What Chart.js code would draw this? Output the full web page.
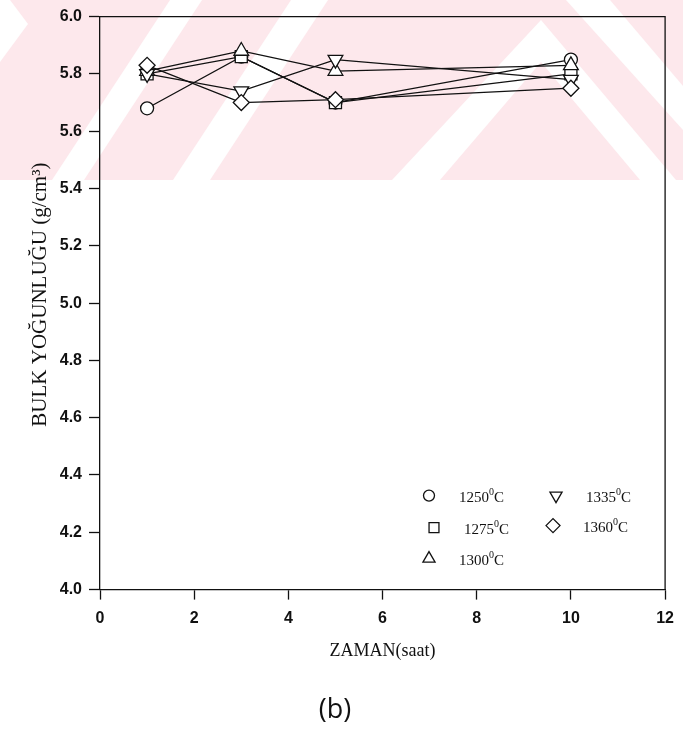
<!DOCTYPE html>
<html>
<head>
<meta charset="utf-8">
<script src="https://cdn.jsdelivr.net/npm/chart.js@4.4.1/dist/chart.umd.min.js"></script>
<style>
  html, body { margin: 0; padding: 0; background: #fff; }
</style>
</head>
<body>
<canvas id="density" width="683" height="742"></canvas>
<script>
// sintering time (hours) and bulk density for each temperature
const hours = [1, 3, 5, 10];
const temps = ['1250', '1275', '1300', '1335', '1360'];
const d1250 = [5.68, 5.86, 5.70, 5.85];
const d1275 = [5.80, 5.86, 5.70, 5.80];
const d1300 = [5.81, 5.88, 5.81, 5.83];
const d1335 = [5.80, 5.74, 5.85, 5.78];
const d1360 = [5.83, 5.70, 5.71, 5.75];
const xTicks = [0, 2, 4, 6, 8, 10, 12];
const yTicks = [4.0, 4.2, 4.4, 4.6, 4.8, 5.0, 5.2, 5.4, 5.6, 5.8, 6.0];
const yTitle = 'BULK YOĞUNLUĞU (g/cm³)';

const series = [d1250, d1275, d1300, d1335, d1360];
const markers = [
  { style: 'circle', rot: 0, r: 6.5 },
  { style: 'rect', rot: 0, r: 8.5 },
  { style: 'triangle', rot: 0, r: 8.5 },
  { style: 'triangle', rot: 180, r: 8.5 },
  { style: 'rectRot', rot: 0, r: 8 }
];

const datasets = series.map((vals, i) => ({
  label: temps[i] + '⁰C',
  data: hours.map((h, j) => ({ x: h, y: vals[j] })),
  order: series.length - i, // diamonds end up on top
  borderColor: '#111',
  borderWidth: 1.3,
  backgroundColor: '#fff',
  pointStyle: markers[i].style,
  pointRotation: markers[i].rot,
  pointRadius: markers[i].r,
  pointBorderWidth: 1.3,
  pointBorderColor: '#111',
  pointBackgroundColor: '#fff',
  tension: 0
}));

// faint pink stamp behind the top of the figure
const stamp = {
  id: 'stamp',
  beforeDraw(chart) {
    const ctx = chart.ctx;
    ctx.save();
    ctx.fillStyle = '#fde8ec';
    ctx.fillRect(0, 0, 683, 180);
    ctx.fillStyle = '#ffffff';
    const poly = pts => {
      ctx.beginPath();
      ctx.moveTo(pts[0][0], pts[0][1]);
      pts.slice(1).forEach(p => ctx.lineTo(p[0], p[1]));
      ctx.closePath();
      ctx.fill();
    };
    poly([[0, 0], [10, 0], [28, 24], [0, 62]]);
    poly([[52, 180], [84, 180], [202, 0], [170, 0]]);
    poly([[173, 180], [210, 180], [328, 0], [291, 0]]);
    poly([[392, 180], [440, 180], [541, 62], [640, 180], [676, 180], [541, 20]]);
    poly([[566, 0], [610, 0], [683, 86], [683, 130]]);
    ctx.restore();
  }
};

// closes the frame on the top and right, writes the vertical axis title
const frame = {
  id: 'frame',
  beforeDatasetsDraw(chart) {
    const a = chart.chartArea, ctx = chart.ctx;
    ctx.save();
    ctx.strokeStyle = '#111';
    ctx.lineWidth = 1.3;
    ctx.beginPath();
    ctx.moveTo(a.left, a.top);
    ctx.lineTo(a.right, a.top);
    ctx.lineTo(a.right, a.bottom);
    ctx.stroke();

    ctx.translate(40, a.top + 278);
    ctx.rotate(-Math.PI / 2);
    ctx.fillStyle = '#111';
    ctx.textAlign = 'center';
    ctx.textBaseline = 'middle';
    ctx.font = '21px "Liberation Serif", "Times New Roman", serif';
    ctx.fillText(yTitle, 0, 0);
    ctx.restore();
  }
};

// two-column key in the lower right of the plot
const key = {
  id: 'key',
  afterDraw(chart) {
    const ctx = chart.ctx, a = chart.chartArea;
    const spots = [
      [a.left + 329, a.top + 479],
      [a.left + 334, a.top + 511],
      [a.left + 329, a.top + 542],
      [a.left + 456, a.top + 479],
      [a.left + 453, a.top + 509]
    ];
    ctx.save();
    chart.data.datasets.forEach((ds, i) => {
      const [x, y] = spots[i];
      ctx.strokeStyle = '#111';
      ctx.fillStyle = '#fff';
      ctx.lineWidth = 1.3;
      Chart.helpers.drawPoint(ctx, {
        pointStyle: ds.pointStyle,
        rotation: ds.pointRotation,
        radius: ds.pointStyle === 'circle' ? 5.5 : 7,
        borderWidth: 1.3
      }, x, y);
      let tx = x + 30;
      ctx.fillStyle = '#111';
      ctx.textBaseline = 'middle';
      ctx.textAlign = 'left';
      ctx.font = '15px "Liberation Serif", "Times New Roman", serif';
      ctx.fillText(temps[i], tx, y + 2);
      tx += ctx.measureText(temps[i]).width;
      ctx.font = '10px "Liberation Serif", "Times New Roman", serif';
      ctx.fillText('0', tx, y - 3);
      tx += ctx.measureText('0').width;
      ctx.font = '15px "Liberation Serif", "Times New Roman", serif';
      ctx.fillText('C', tx, y + 2);
    });
    ctx.restore();
  }
};

new Chart('density', {
  type: 'line',
  data: { datasets },
  plugins: [stamp, frame, key],
  options: {
    responsive: false,
    animation: false,
    devicePixelRatio: 1,
    layout: { padding: { top: 13, right: 13, left: 0, bottom: 0 } },
    plugins: {
      legend: { display: false },
      tooltip: { enabled: false },
      title: {
        display: true,
        position: 'bottom',
        text: '(b)',
        color: '#111',
        font: { family: '"Open Sans", "Noto Sans", sans-serif', size: 27, weight: 'normal' },
        padding: { top: 5, bottom: 15 }
      }
    },
    scales: {
      x: {
        type: 'linear',
        min: 0,
        max: 12,
        afterBuildTicks: s => { s.ticks = xTicks.map(v => ({ value: v })); },
        afterFit: s => { s.height = 100; },
        grid: { drawOnChartArea: false, tickLength: 10, tickColor: '#111', tickWidth: 1.3 },
        border: { color: '#111', width: 1.3 },
        ticks: {
          color: '#111',
          padding: 9,
          maxRotation: 0,
          font: { family: '"Liberation Sans", Arial, sans-serif', size: 16, weight: 'bold' }
        },
        title: {
          display: true,
          text: 'ZAMAN(saat)',
          color: '#111',
          font: { family: '"Liberation Serif", "Times New Roman", serif', size: 18 },
          padding: { top: 0, bottom: 28 }
        }
      },
      y: {
        type: 'linear',
        min: 4,
        max: 6,
        afterBuildTicks: s => { s.ticks = yTicks.map(v => ({ value: v })); },
        afterFit: s => { s.width = 100; },
        grid: { drawOnChartArea: false, tickLength: 11, tickColor: '#111', tickWidth: 1.3 },
        border: { color: '#111', width: 1.3 },
        ticks: {
          color: '#111',
          padding: 7,
          callback: v => v.toFixed(1),
          font: { family: '"Liberation Sans", Arial, sans-serif', size: 16, weight: 'bold' }
        }
      }
    }
  }
});
</script>
</body>
</html>
